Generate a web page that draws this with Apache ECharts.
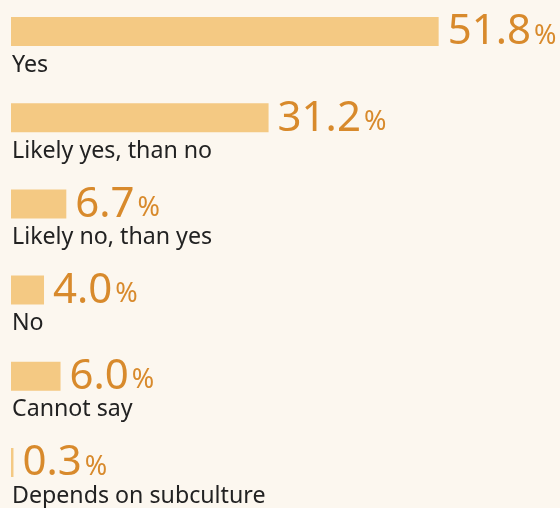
<!DOCTYPE html>
<html><head><meta charset="utf-8">
<script src="https://cdn.jsdelivr.net/npm/echarts@6/dist/echarts.min.js"></script>
<style>html,body{margin:0;padding:0;background:#fcf7ef}#c{width:560px;height:508px}</style>
</head><body><div id="c"></div>
<script>
const categories = ["Yes", "Likely yes, than no", "Likely no, than yes", "No", "Cannot say", "Depends on subculture"];
const values = [51.8, 31.2, 6.7, 4.0, 6.0, 0.3];

const chart = echarts.init(document.getElementById('c'));
chart.setOption({
  backgroundColor: '#fcf7ef',
  animation: false,
  grid: {left: 11, right: 0, top: 31.5, height: 431, containLabel: false},
  xAxis: {type: 'value', min: 0, max: 66.5, show: false},
  yAxis: {
    type: 'category', data: categories, inverse: true, boundaryGap: false,
    axisLine: {show: false}, axisTick: {show: false}, splitLine: {show: false},
    axisLabel: {
      inside: true, interval: 0, margin: 1, verticalAlign: 'top', align: 'left',
      padding: [22, 0, 0, 0],
      fontFamily: 'Noto Sans', fontSize: 23.2, color: '#222'
    }
  },
  series: [{
    type: 'bar', data: values, barWidth: 29,
    itemStyle: {color: '#f4c983'},
    label: {
      show: true, position: 'right', distance: 9,
      formatter: p => '{v|' + p.value.toFixed(1) + '}{p|%}',
      rich: {
        v: {fontFamily: 'Noto Sans', fontSize: 42, color: '#d88a2c', verticalAlign: 'bottom', lineHeight: 44},
        p: {fontFamily: 'Noto Sans', fontSize: 27, color: '#d88a2c', verticalAlign: 'bottom', lineHeight: 42, padding: [0,0,4,3]}
      }
    }
  }]
});
</script></body></html>
